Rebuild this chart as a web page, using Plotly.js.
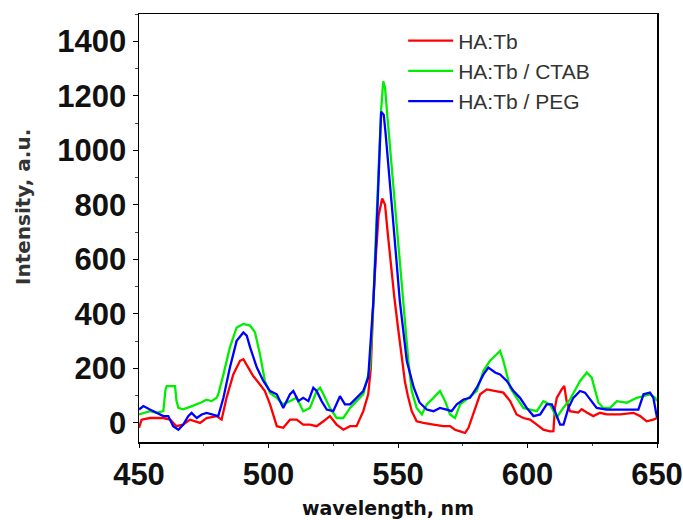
<!DOCTYPE html>
<html>
<head>
<meta charset="utf-8">
<script src="https://cdn.plot.ly/plotly-3.0.1.min.js"></script>
<style>html,body{margin:0;padding:0;background:#fff}#chart{width:683px;height:520px}</style>
</head>
<body>
<div id="chart"></div>
<script>
var seriesNames = ["HA:Tb", "HA:Tb / CTAB", "HA:Tb / PEG"];

var wlRed = [450,451,454.2,459.4,462,464.5,467.1,469.7,473.6,476.1,480,481.9,483.8,486.4,489,490.3,492.2,494.1,496.7,498.6,500.6,503.2,505.7,508.3,510.9,513.4,516,518.6,521.2,523.7,526.3,528.9,531.5,534,536.6,538.5,539.5,540.5,541.5,542.5,543.9,545,546,547.3,548.6,550,551.4,552.7,553.8,555.3,557.2,559.8,563.7,567.5,570.1,572,574,575.9,577.2,579.1,581.7,584.3,588.1,590.7,593.3,595.8,598.4,601,603.6,606.1,608.7,610,610.6,611.3,613.2,614.2,615.1,616.4,619.6,620.9,622.9,625.4,628,630.6,635.7,640.9,643.5,646,648.6,650];
var intRed = [-18,12,18,18,12,-12,-6,12,0,18,25,12,92,178,228,234,203,172,141,117,68,-12,-18,12,12,-6,-6,-12,6,25,-6,-25,-12,-12,43,105,200,448,620,760,823,800,700,571,460,350,245,150,100,43,6,0,-6,-12,-12,-25,-31,-37,-18,31,105,123,117,111,80,31,18,12,-6,-25,-31,-30,55,92,123,136,80,43,38,50,38,25,37,31,31,37,25,6,12,18];

var wlGreen = [450,454.2,456.8,459.4,460.2,460.7,463.9,464.5,465.2,467,470,472.3,474,476,478,480,480.6,482.6,485.1,487.7,490.3,492.9,494.8,496.7,498.6,500.6,503.2,505.7,508.3,510.9,513.4,516,518.6,519.9,521.2,523.7,526.3,528.9,531.5,534,536.6,539.2,540.5,541.5,542.5,543.5,544.3,545,545.9,548.6,551.4,554,555.3,557.2,559.2,561.1,563.7,566.2,568.2,570.1,572,574,576.5,580.4,583,585.5,588.1,589.4,590.7,593.3,595.8,598.4,601,603.6,606.1,608.7,611.3,613.8,616.4,620.3,622.9,624.8,627.4,629.3,631.9,634.5,638.3,642.2,644.8,647.3,649.3,650];
var intGreen = [31,43,37,43,120,135,135,80,55,50,60,68,75,85,80,92,105,178,277,350,363,357,332,252,154,110,92,68,80,92,43,55,117,129,105,55,18,18,55,80,105,203,448,700,950,1150,1253,1230,1124,817,510,227,117,55,31,68,92,117,80,31,18,68,86,117,191,228,252,264,228,129,92,55,49,43,80,68,20,55,86,154,185,166,74,55,55,80,74,92,98,105,92,80];

var wlBlue = [450,451.7,454.2,456.8,459.4,461.3,463.2,465.2,467.1,469,470.3,472.3,474.2,476.1,478.7,480.6,482.6,485.1,487.7,490.3,491.6,492.9,495.5,498,500.6,503.2,505.7,508.3,509.6,511.5,513.4,515.4,517.3,518.6,520.5,522.5,525,527.6,529.5,531.5,534,536.6,538.5,539.5,540.5,541.5,542.5,543.5,544.5,545.2,548,550.7,553.4,556.1,558.3,561.1,563.7,566.2,568.8,570.7,572.7,575.3,577.8,580.4,583,584.9,587.5,589.4,592,594.6,597.1,599.7,602.3,604.9,607.4,609.4,610.6,612.6,613.9,615.8,617.7,620.3,622.2,624.2,626.7,630.6,634.5,638.3,642.8,644.8,647.3,648.6,649.6,650];
var intBlue = [49,62,49,37,25,25,-12,-25,-6,25,37,18,31,37,31,25,92,203,301,332,320,277,203,154,117,105,55,105,117,80,92,80,129,117,80,49,43,98,68,68,92,117,166,300,448,650,900,1142,1130,1063,755,448,227,129,75,49,43,55,49,43,68,86,92,129,178,203,185,178,154,117,92,55,25,31,68,68,43,-6,-6,55,92,117,111,86,55,49,49,49,49,105,111,92,43,20];

var xTickVals = [450, 500, 550, 600, 650];
var yTickVals = [0, 200, 400, 600, 800, 1000, 1200, 1400];
var xTitle = "wavelength, nm";
var yTitle = "Intensity, a.u.";

var lineW = 2.3;
var traces = [
  {x: wlRed, y: intRed, name: seriesNames[0], type: "scatter", mode: "lines", line: {color: "#ff0000", width: lineW}},
  {x: wlGreen, y: intGreen, name: seriesNames[1], type: "scatter", mode: "lines", line: {color: "#00ee00", width: lineW}},
  {x: wlBlue, y: intBlue, name: seriesNames[2], type: "scatter", mode: "lines", line: {color: "#0000ff", width: lineW}}
];

var tickFont = {family: "Liberation Sans, Arial, sans-serif", size: 31, color: "#111", weight: "bold"};
var layout = {
  width: 683, height: 520,
  margin: {l: 139, r: 26, t: 14, b: 78},
  paper_bgcolor: "#ffffff", plot_bgcolor: "#ffffff",
  showlegend: true,
  legend: {x: 0.51, y: 0.985, xanchor: "left", yanchor: "top", bgcolor: "rgba(0,0,0,0)",
           font: {family: "Liberation Sans, Arial, sans-serif", size: 21, color: "#333"},
           itemwidth: 45, tracegroupgap: 0},
  xaxis: {range: [450, 650], tickvals: xTickVals, ticktext: xTickVals.map(String),
          ticks: "outside", ticklen: 4, tickcolor: "#000", showgrid: false, zeroline: false,
          showline: true, linecolor: "#000", linewidth: 1.5, mirror: true,
          tickfont: tickFont,
          minor: {dtick: 25, ticks: "outside", ticklen: 2, tickcolor: "#444"}},
  yaxis: {range: [-70, 1500], tickvals: yTickVals, ticktext: yTickVals.map(String),
          ticks: "outside", ticklen: 5, tickcolor: "#000", showgrid: false, zeroline: false,
          showline: true, linecolor: "#000", linewidth: 1.5, mirror: true,
          tickfont: tickFont,
          minor: {dtick: 100, ticks: "outside", ticklen: 3, tickcolor: "#444"}},
  yaxis2: {overlaying: "y", side: "right", range: [-70, 1500], tickvals: yTickVals,
           ticks: "inside", ticklen: 5, tickcolor: "#000", showticklabels: false,
           showgrid: false, zeroline: false, showline: false,
           minor: {dtick: 100, ticks: "inside", ticklen: 3, tickcolor: "#444"}},
  xaxis2: {overlaying: "x", side: "top", range: [450, 650], tickvals: xTickVals,
           ticks: "inside", ticklen: 4, tickcolor: "#444", showticklabels: false,
           showgrid: false, zeroline: false, showline: false,
           minor: {dtick: 25, ticks: "inside", ticklen: 2, tickcolor: "#666"}},
  annotations: [{
    text: "<b>" + yTitle + "</b>", textangle: -90, showarrow: false,
    xref: "paper", yref: "paper", x: -0.225, y: 0.55, xanchor: "center", yanchor: "middle",
    font: {family: "DejaVu Sans, Liberation Sans, sans-serif", size: 20, color: "#333"}
  }, {
    text: "<b>" + xTitle + "</b>", showarrow: false,
    xref: "paper", yref: "paper", x: -0.02, y: -0.154, xanchor: "center", yanchor: "middle",
    font: {family: "DejaVu Sans, Liberation Sans, sans-serif", size: 19, color: "#111"}
  }]
};
layout.annotations[1].x = (388 - 139) / 518;

Plotly.newPlot("chart", traces, layout, {displayModeBar: false, staticPlot: true});
</script>
</body>
</html>
